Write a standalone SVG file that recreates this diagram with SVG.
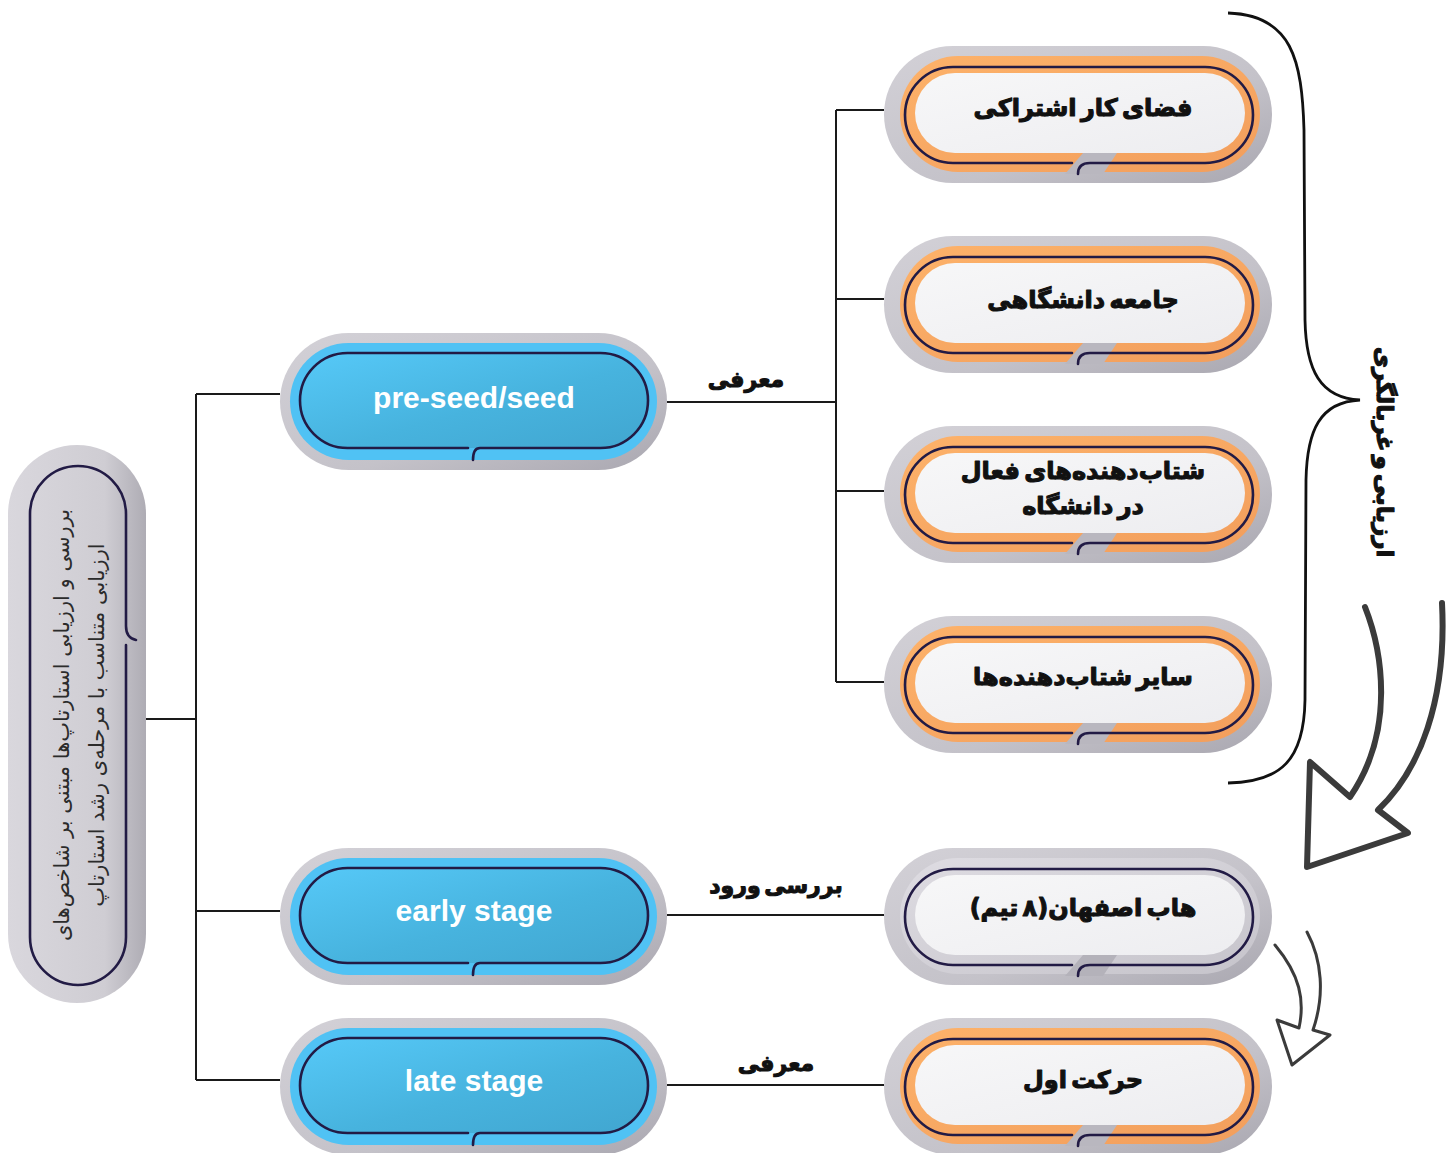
<svg xmlns="http://www.w3.org/2000/svg" xmlns:xlink="http://www.w3.org/1999/xlink" width="1449" height="1153" viewBox="0 0 1449 1153">
  <defs>
    <linearGradient id="gRim" x1="0" y1="0" x2="1" y2="1">
      <stop offset="0" stop-color="#d3d1d7"/>
      <stop offset="0.6" stop-color="#c4c2c9"/>
      <stop offset="1" stop-color="#a9a7b0"/>
    </linearGradient>
    <linearGradient id="gRimV" x1="0" y1="0" x2="1" y2="0">
      <stop offset="0" stop-color="#d9d7dd"/>
      <stop offset="0.7" stop-color="#cfcdd3"/>
      <stop offset="1" stop-color="#aeacb4"/>
    </linearGradient>
    <linearGradient id="gOrange" x1="0" y1="0" x2="1" y2="1">
      <stop offset="0" stop-color="#fdb26a"/>
      <stop offset="1" stop-color="#f29e5c"/>
    </linearGradient>
    <linearGradient id="gHubBand" x1="0" y1="0" x2="1" y2="1">
      <stop offset="0" stop-color="#dedce2"/>
      <stop offset="1" stop-color="#c6c4cb"/>
    </linearGradient>
    <linearGradient id="gWhite" x1="0" y1="0" x2="1" y2="1">
      <stop offset="0" stop-color="#f7f7f8"/>
      <stop offset="1" stop-color="#ededf0"/>
    </linearGradient>
    <linearGradient id="gBlue" x1="0" y1="0" x2="1" y2="1">
      <stop offset="0" stop-color="#56c9f8"/>
      <stop offset="0.55" stop-color="#47b3de"/>
      <stop offset="1" stop-color="#41a6d0"/>
    </linearGradient>
    <style>
      .conn{fill:none;stroke:#1a1a1a;stroke-width:2}
      .outline{fill:none;stroke:#221b45;stroke-width:2.6;stroke-linecap:round}
      .fa{font-family:"DejaVu Sans","Noto Sans",sans-serif;font-weight:bold;fill:#111;stroke:#111;stroke-width:1.1;stroke-linejoin:round;word-spacing:-4px;text-anchor:middle;dominant-baseline:central}
      .en{font-family:"Liberation Sans",Arial,sans-serif;font-weight:bold;font-size:30px;fill:#fff;text-anchor:middle;dominant-baseline:central}
      .arrow{fill:none;stroke:#3b3b3b;stroke-linecap:round;stroke-linejoin:round}
      .root{font-family:"DejaVu Sans","Noto Sans",sans-serif;font-size:21px;fill:#2b2b2b;text-anchor:middle;dominant-baseline:central}
    </style>
    <g id="orangeShape">
      <rect x="0" y="0" width="388" height="137" rx="68.5" fill="url(#gRim)"/>
      <rect x="16" y="10" width="360" height="116" rx="58" fill="url(#gOrange)"/>
      <rect x="31" y="27" width="330" height="80" rx="40" fill="url(#gWhite)"/>
      <polygon points="199,107 233,107 219,128 181,128" fill="#b9b7bf"/>
      <path class="outline" d="M188,117 H69 A48,48 0 0 1 69,21 H321 A48,48 0 0 1 321,117 H206 Q194,117 194,128"/>
    </g>
    <g id="hubShape">
      <rect x="0" y="0" width="388" height="137" rx="68.5" fill="url(#gRim)"/>
      <rect x="16" y="10" width="360" height="116" rx="58" fill="url(#gHubBand)"/>
      <rect x="31" y="27" width="330" height="80" rx="40" fill="url(#gWhite)"/>
      <polygon points="199,107 233,107 219,128 181,128" fill="#b4b2ba"/>
      <path class="outline" d="M188,117 H69 A48,48 0 0 1 69,21 H321 A48,48 0 0 1 321,117 H206 Q194,117 194,128"/>
    </g>
    <g id="blueShape">
      <rect x="0" y="0" width="387" height="137" rx="68.5" fill="url(#gRim)"/>
      <rect x="10" y="10" width="367" height="117" rx="58.5" fill="#50c2f4"/>
      <rect x="20" y="20" width="348" height="95" rx="47.5" fill="url(#gBlue)"/>
      <path class="outline" d="M188,115 H67.5 A47.5,47.5 0 0 1 67.5,20 H320.5 A47.5,47.5 0 0 1 320.5,115 H200 Q193,115 193,127"/>
    </g>
  </defs>

  <rect width="1449" height="1153" fill="#ffffff"/>

  <g id="connectors">
    <path class="conn" d="M146,719 H196"/>
    <path class="conn" d="M196,394 V1080"/>
    <path class="conn" d="M196,394 H280"/>
    <path class="conn" d="M196,911 H280"/>
    <path class="conn" d="M196,1080 H280"/>
    <path class="conn" d="M667,402 H836"/>
    <path class="conn" d="M836,110 V682"/>
    <path class="conn" d="M836,110 H884"/>
    <path class="conn" d="M836,299 H884"/>
    <path class="conn" d="M836,491 H884"/>
    <path class="conn" d="M836,682 H884"/>
    <path class="conn" d="M667,915 H884"/>
    <path class="conn" d="M667,1085 H884"/>
    <text class="fa" x="746" y="379" font-size="22">معرفی</text>
    <text class="fa" x="776" y="885" font-size="22">بررسی ورود</text>
    <text class="fa" x="776" y="1063" font-size="22">معرفی</text>
  </g>

  <g id="node-root">
    <rect x="8" y="445" width="138" height="558" rx="69" fill="url(#gRimV)"/>
    <path class="outline" d="M126,645 V937 A48,48 0 0 1 30,937 V514 A48,48 0 0 1 126,514 V626 Q126,638 136,640"/>
    <g transform="translate(79,725) rotate(-90)">
      <text class="root" x="0" y="-17">بررسی و ارزیابی استارتاپ‌ها مبتنی بر شاخص‌های</text>
      <text class="root" x="0" y="18">ارزیابی متناسب با مرحله‌ی رشد استارتاپ</text>
    </g>
  </g>

  <g id="node-preseed">
    <use xlink:href="#blueShape" href="#blueShape" x="280" y="333"/>
    <text class="en" x="474" y="397">pre-seed/seed</text>
  </g>
  <g id="node-early">
    <use xlink:href="#blueShape" href="#blueShape" x="280" y="848"/>
    <text class="en" x="474" y="910">early stage</text>
  </g>
  <g id="node-late">
    <use xlink:href="#blueShape" href="#blueShape" x="280" y="1018"/>
    <text class="en" x="474" y="1080">late stage</text>
  </g>

  <g id="node-cowork">
    <use xlink:href="#orangeShape" href="#orangeShape" x="884" y="46"/>
    <text class="fa" x="1083" y="108" font-size="24">فضای کار اشتراکی</text>
  </g>
  <g id="node-university">
    <use xlink:href="#orangeShape" href="#orangeShape" x="884" y="236"/>
    <text class="fa" x="1083" y="300" font-size="24">جامعه دانشگاهی</text>
  </g>
  <g id="node-accel">
    <use xlink:href="#orangeShape" href="#orangeShape" x="884" y="426"/>
    <text class="fa" x="1083" y="471" font-size="24">شتاب‌دهنده‌های فعال</text>
    <text class="fa" x="1083" y="506" font-size="24">در دانشگاه</text>
  </g>
  <g id="node-other">
    <use xlink:href="#orangeShape" href="#orangeShape" x="884" y="616"/>
    <text class="fa" x="1083" y="677" font-size="24">سایر شتاب‌دهنده‌ها</text>
  </g>
  <g id="node-hub">
    <use xlink:href="#hubShape" href="#hubShape" x="884" y="848"/>
    <text class="fa" x="1083" y="908" font-size="24">هاب اصفهان(۸ تیم)</text>
  </g>
  <g id="node-harekat">
    <use xlink:href="#orangeShape" href="#orangeShape" x="884" y="1018"/>
    <text class="fa" x="1083" y="1080" font-size="24">حرکت اول</text>
  </g>

  <g id="brace">
    <path d="M1228,13 C1292,15 1302,60 1304,130 L1305,320 C1306,370 1320,398 1360,400 C1320,402 1307,430 1306,480 L1305,700 C1304,760 1281,782 1228,783" fill="none" stroke="#111" stroke-width="2.8"/>
    <text class="fa" font-size="23" transform="translate(1385,452) rotate(90)">ارزیابی و غربالگری</text>
  </g>

  <g id="arrows">
    <path class="arrow" stroke-width="6" d="M1365,607 C1382,650 1396,730 1350,797 L1310,762 L1307,867 L1408,833 L1378,810 C1420,770 1447,700 1442,603"/>
    <path class="arrow" stroke-width="3" d="M1275,945 C1300,975 1305,1000 1299,1028 L1277,1020 L1292,1065 L1330,1035 L1313,1030 C1325,995 1322,960 1307,932"/>
  </g>
</svg>
